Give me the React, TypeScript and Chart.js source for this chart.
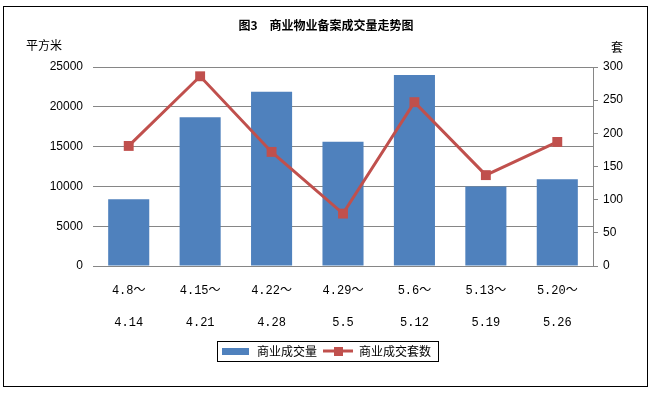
import React, { useEffect, useRef } from "react";
import { Chart, registerables } from "chart.js";

Chart.register(...registerables);

const categories: string[][] = [
  ["4.8～", "4.14"],
  ["4.15～", "4.21"],
  ["4.22～", "4.28"],
  ["4.29～", "5.5"],
  ["5.6～", "5.12"],
  ["5.13～", "5.19"],
  ["5.20～", "5.26"],
];
const areaValues: number[] = [8400, 18700, 21900, 15600, 24000, 10000, 10900];
const unitValues: number[] = [181, 286, 172, 79, 247, 137, 187];
const titleText = "图3　商业物业备案成交量走势图";
const leftUnit = "平方米";
const rightUnit = "套";
const seriesNames = ["商业成交量", "商业成交套数"];

const BLUE = "#4F81BD";
const RED = "#C0504D";
const GRID = "#868686";
const CJK = "'Noto Sans CJK SC', 'Liberation Sans', sans-serif";
const NUM = "'Liberation Sans', 'Noto Sans CJK SC', sans-serif";

export default function App() {
  const ref = useRef<HTMLCanvasElement | null>(null);

  useEffect(() => {
    const canvas = ref.current;
    if (!canvas) return;

    const barIcon = document.createElement("canvas");
    barIcon.width = 27;
    barIcon.height = 7;
    const bctx = barIcon.getContext("2d")!;
    bctx.fillStyle = BLUE;
    bctx.fillRect(0, 0, 27, 7);

    const lineIcon = document.createElement("canvas");
    lineIcon.width = 30;
    lineIcon.height = 9;
    const lctx = lineIcon.getContext("2d")!;
    lctx.fillStyle = RED;
    lctx.fillRect(0, 3, 30, 3);
    lctx.fillRect(11, 0, 9, 9);

    const decor = {
      id: "decor",
      afterDraw(chart: any) {
        const ctx = chart.ctx;
        ctx.save();
        ctx.strokeStyle = "#000";
        ctx.lineWidth = 1;
        ctx.strokeRect(3.5, 6.5, 644, 380);
        ctx.fillStyle = "#000";
        ctx.font = `12px ${CJK}`;
        ctx.textAlign = "center";
        ctx.textBaseline = "middle";
        ctx.fillText(leftUnit, 44, 45);
        ctx.fillText(rightUnit, 617, 47);
        const boxes = chart.legend?.legendHitBoxes;
        if (boxes && boxes.length) {
          const first = boxes[0];
          const last = boxes[boxes.length - 1];
          const left = Math.round(first.left) - 4;
          const right = Math.round(last.left + last.width) + 7;
          const cy = Math.round(first.top + first.height / 2);
          ctx.strokeStyle = "#000";
          ctx.strokeRect(left + 0.5, cy - 10 + 0.5, right - left, 20);
        }
        ctx.restore();
      },
    };

    const chart = new Chart(canvas, {
      type: "bar",
      data: {
        labels: categories,
        datasets: [
          {
            type: "bar",
            label: seriesNames[0],
            data: areaValues,
            backgroundColor: BLUE,
            borderWidth: 0,
            yAxisID: "y",
            order: 1,
            barPercentage: 0.575,
            categoryPercentage: 1,
          },
          {
            type: "line",
            label: seriesNames[1],
            data: unitValues,
            borderColor: RED,
            backgroundColor: RED,
            borderWidth: 3,
            pointStyle: "rect",
            pointRadius: 7,
            pointBackgroundColor: RED,
            pointBorderColor: RED,
            pointBorderWidth: 0,
            yAxisID: "y1",
            order: 0,
            tension: 0,
          },
        ],
      } as any,
      options: {
        animation: false,
        responsive: false,
        maintainAspectRatio: false,
        layout: { padding: { top: 0, left: 0, right: 0, bottom: 26 } },
        plugins: {
          tooltip: { enabled: false },
          title: {
            display: true,
            text: titleText,
            color: "#000",
            font: { family: CJK, size: 12, weight: "bold" },
            padding: { top: 18, bottom: 34.6 },
          },
          legend: {
            display: true,
            position: "bottom",
            labels: {
              usePointStyle: true,
              pointStyleWidth: 30,
              padding: 6,
              color: "#000",
              font: { family: CJK, size: 12 },
              generateLabels: () => [
                {
                  text: seriesNames[0],
                  pointStyle: barIcon,
                  fillStyle: BLUE,
                  strokeStyle: BLUE,
                  lineWidth: 0,
                  hidden: false,
                  datasetIndex: 0,
                },
                {
                  text: seriesNames[1],
                  pointStyle: lineIcon,
                  fillStyle: RED,
                  strokeStyle: RED,
                  lineWidth: 0,
                  hidden: false,
                  datasetIndex: 1,
                },
              ],
            },
          },
        },
        scales: {
          x: {
            grid: { display: false },
            border: { display: true, color: GRID, width: 1 },
            ticks: {
              color: "#000",
              padding: 1,
              maxRotation: 0,
              autoSkip: false,
              font: { family: "'Liberation Mono', 'Noto Sans CJK SC', monospace", size: 12, lineHeight: "32px" },
            },
            afterFit: (s: any) => {
              s.height = 73;
            },
          },
          y: {
            position: "left",
            min: 0,
            max: 25000,
            grid: { color: GRID, lineWidth: 1, drawTicks: false },
            border: { display: false },
            ticks: {
              stepSize: 5000,
              color: "#000",
              padding: 10,
              font: { family: NUM, size: 12 },
              callback: (v: any) => String(v),
            },
            afterFit: (s: any) => {
              s.width = 93;
            },
          },
          y1: {
            position: "right",
            min: 0,
            max: 300,
            grid: { drawOnChartArea: false, drawTicks: true, tickLength: 5, color: GRID },
            border: { display: true, color: GRID, width: 1 },
            ticks: {
              stepSize: 50,
              color: "#000",
              padding: 5,
              font: { family: NUM, size: 12 },
              callback: (v: any) => String(v),
            },
            afterFit: (s: any) => {
              s.width = 59;
            },
          },
        },
      } as any,
      plugins: [decor],
    });

    return () => chart.destroy();
  }, []);

  return (
    <div style={{ position: "fixed", left: 0, top: 0, width: 652, height: 393, background: "#fff" }}>
      <canvas ref={ref} width={652} height={393} style={{ width: 652, height: 393, display: "block" }} />
    </div>
  );
}
